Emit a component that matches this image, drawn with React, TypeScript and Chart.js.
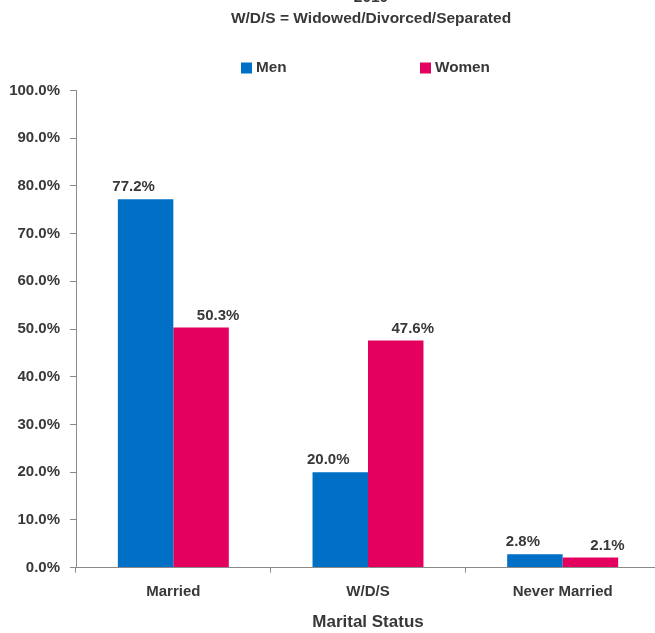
import React, { useEffect, useRef } from 'react';
import { Chart, registerables } from 'chart.js';

Chart.register(...registerables);

const categories = ['Married', 'W/D/S', 'Never Married'];
const menValues = [77.2, 20.0, 2.8];
const womenValues = [50.3, 47.6, 2.1];
const seriesNames = ['Men', 'Women'];
const seriesColors = ['#0070C6', '#E4005E'];
const titleLines = ['2010', 'W/D/S = Widowed/Divorced/Separated'];
const xAxisTitle = 'Marital Status';
const yMin = 0;
const yMax = 100;
const yStep = 10;

const FONT = "'Liberation Sans', Arial, sans-serif";
const TEXT = '#383838';
const AXIS = '#8a8a8a';
const LABEL_SHIFT = [-12, 17];

const titlePlugin = {
  id: 'centeredTitle',
  afterDraw(chart: any) {
    const ctx = chart.ctx;
    const area = chart.chartArea;
    const cx = (area.left + area.right) / 2 + 3;
    ctx.save();
    ctx.font = `bold 15.5px ${FONT}`;
    ctx.fillStyle = TEXT;
    ctx.textAlign = 'center';
    ctx.textBaseline = 'middle';
    const lastY = area.top - 72;
    titleLines.forEach((line, i) => {
      ctx.fillText(line, cx, lastY - (titleLines.length - 1 - i) * 21);
    });
    ctx.restore();
  },
};

const barLabelPlugin = {
  id: 'barLabels',
  afterDatasetsDraw(chart: any) {
    const ctx = chart.ctx;
    ctx.save();
    ctx.font = `bold 15px ${FONT}`;
    ctx.fillStyle = TEXT;
    ctx.textAlign = 'center';
    ctx.textBaseline = 'alphabetic';
    chart.data.datasets.forEach((ds: any, di: number) => {
      const meta = chart.getDatasetMeta(di);
      meta.data.forEach((bar: any, i: number) => {
        const v = ds.data[i] as number;
        ctx.fillText(v.toFixed(1) + '%', bar.x + LABEL_SHIFT[di], bar.y - 8);
      });
    });
    ctx.restore();
  },
};

const legendPlugin = {
  id: 'customLegend',
  afterDraw(chart: any) {
    const ctx = chart.ctx;
    const area = chart.chartArea;
    const cx = (area.left + area.right) / 2;
    const y = area.top - 22.5;
    const starts = [cx - 127, cx + 52];
    ctx.save();
    ctx.font = `bold 15.3px ${FONT}`;
    ctx.textBaseline = 'middle';
    ctx.textAlign = 'left';
    chart.data.datasets.forEach((ds: any, di: number) => {
      const x = starts[di];
      ctx.fillStyle = ds.backgroundColor;
      ctx.fillRect(x, y - 5.5, 11, 11);
      ctx.fillStyle = TEXT;
      ctx.fillText(ds.label, x + 15, y);
    });
    ctx.restore();
  },
};

export default function App() {
  const ref = useRef<HTMLCanvasElement | null>(null);
  useEffect(() => {
    if (!ref.current) return;
    const chart = new Chart(ref.current, {
      type: 'bar',
      data: {
        labels: categories,
        datasets: [
          { label: seriesNames[0], data: menValues, backgroundColor: seriesColors[0], borderWidth: 0 },
          { label: seriesNames[1], data: womenValues, backgroundColor: seriesColors[1], borderWidth: 0 },
        ],
      },
      options: {
        responsive: false,
        animation: false,
        layout: { padding: { left: 0, right: 0, top: 110.5, bottom: 0 } },
        datasets: { bar: { categoryPercentage: 0.57, barPercentage: 1 } },
        plugins: {
          legend: { display: false },
          tooltip: { enabled: false },
          title: { display: false },
        },
        scales: {
          x: {
            grid: { display: true, drawOnChartArea: false, offset: true, tickLength: 5, color: AXIS },
            border: { color: AXIS, width: 1 },
            ticks: { color: TEXT, padding: 10, font: { family: FONT, size: 15, weight: 'bold' } },
            title: {
              display: true,
              text: xAxisTitle,
              color: TEXT,
              padding: { top: 2, bottom: 0 },
              font: { family: FONT, size: 17, weight: 'bold' },
            },
          },
          y: {
            min: yMin,
            max: yMax,
            afterFit(scale: any) {
              scale.width = 76;
            },
            grid: { display: true, drawOnChartArea: false, tickLength: 6, color: AXIS },
            border: { color: AXIS, width: 1 },
            ticks: {
              stepSize: yStep,
              color: TEXT,
              padding: 10,
              font: { family: FONT, size: 15, weight: 'bold' },
              callback: (v: any) => Number(v).toFixed(1) + '%',
            },
          },
        },
      },
      plugins: [barLabelPlugin, legendPlugin, titlePlugin],
    });
    return () => chart.destroy();
  }, []);
  return (
    <div style={{ position: 'absolute', left: 0, top: 0, width: 655, height: 633, overflow: 'hidden', background: '#fff' }}>
      <div style={{ position: 'absolute', left: 0, top: -20 }}>
        <canvas ref={ref} width={660} height={653} style={{ display: 'block' }} />
      </div>
    </div>
  );
}
